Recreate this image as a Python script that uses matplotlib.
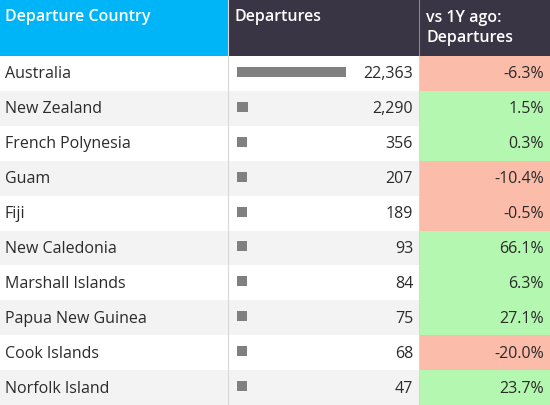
import matplotlib
matplotlib.use("Agg")
import matplotlib.pyplot as plt
from matplotlib.patches import Rectangle

countries = ["Australia", "New Zealand", "French Polynesia", "Guam", "Fiji",
             "New Caledonia", "Marshall Islands", "Papua New Guinea", "Cook Islands", "Norfolk Island"]
departures = [22363, 2290, 356, 207, 189, 93, 84, 75, 68, 47]
change = [-6.3, 1.5, 0.3, -10.4, -0.5, 66.1, 6.3, 27.1, -20.0, 23.7]
headers = ["Departure Country", "Departures", "vs 1Y ago:\nDepartures"]

W, H = 550, 406
fig = plt.figure(figsize=(5.5, 4.06), dpi=100)
ax = fig.add_axes([0, 0, 1, 1])
ax.set_xlim(0, W); ax.set_ylim(H, 0); ax.axis("off")
fam = ["Open Sans", "DejaVu Sans"]
c0, c1, c2, c3 = 0, 228, 419, 550
hh = 57
rh = (H - hh) / len(countries)

ax.add_patch(Rectangle((c0, 0), c1 - c0, hh, color="#00b4f8", lw=0))
ax.add_patch(Rectangle((c1, 0), c3 - c1, hh, color="#3a3545", lw=0))
ax.plot([c2, c2], [0, hh], color="#8a8595", lw=0.8)
ax.text(5, 17, headers[0], color="white", fontsize=11.5, fontweight="semibold", family=fam, va="center")
ax.text(235, 17, headers[1], color="white", fontsize=11.5, fontweight="semibold", family=fam, va="center")
ax.text(426, 28, headers[2], color="white", fontsize=11.5, fontweight="semibold", family=fam, va="center", linespacing=1.25)

maxw = 109
widths = [max(d / max(departures) * maxw, 10) for d in departures]
for i, (c, d, ch) in enumerate(zip(countries, departures, change)):
    y = hh + i * rh
    bg = "white" if i % 2 == 0 else "#f3f3f3"
    ax.add_patch(Rectangle((c0, y), c2 - c0, rh, color=bg, lw=0))
    ax.add_patch(Rectangle((c2, y), c3 - c2, rh, color="#fbbcaa" if ch < 0 else "#b4f7b0", lw=0))
    cy = y + rh / 2
    ax.text(5, cy, c, fontsize=11.5, color="#2b2b2b", family=fam, va="center")
    ax.text(413, cy, f"{d:,}", fontsize=11.5, color="#2b2b2b", family=fam, va="center", ha="right")
    ax.text(544, cy, f"{ch:.1f}%", fontsize=11.5, color="#2b2b2b", family=fam, va="center", ha="right")
ax.barh([hh + (i + 0.5) * rh - 1.5 for i in range(len(countries))], widths, height=10, left=237, color="#808080")
ax.plot([c1, c1], [0, H], color="#d8d8d8", lw=0.8)
ax.plot([c2, c2], [hh, H], color="#d8d8d8", lw=0.8)
fig.savefig("out.png", dpi=100)
